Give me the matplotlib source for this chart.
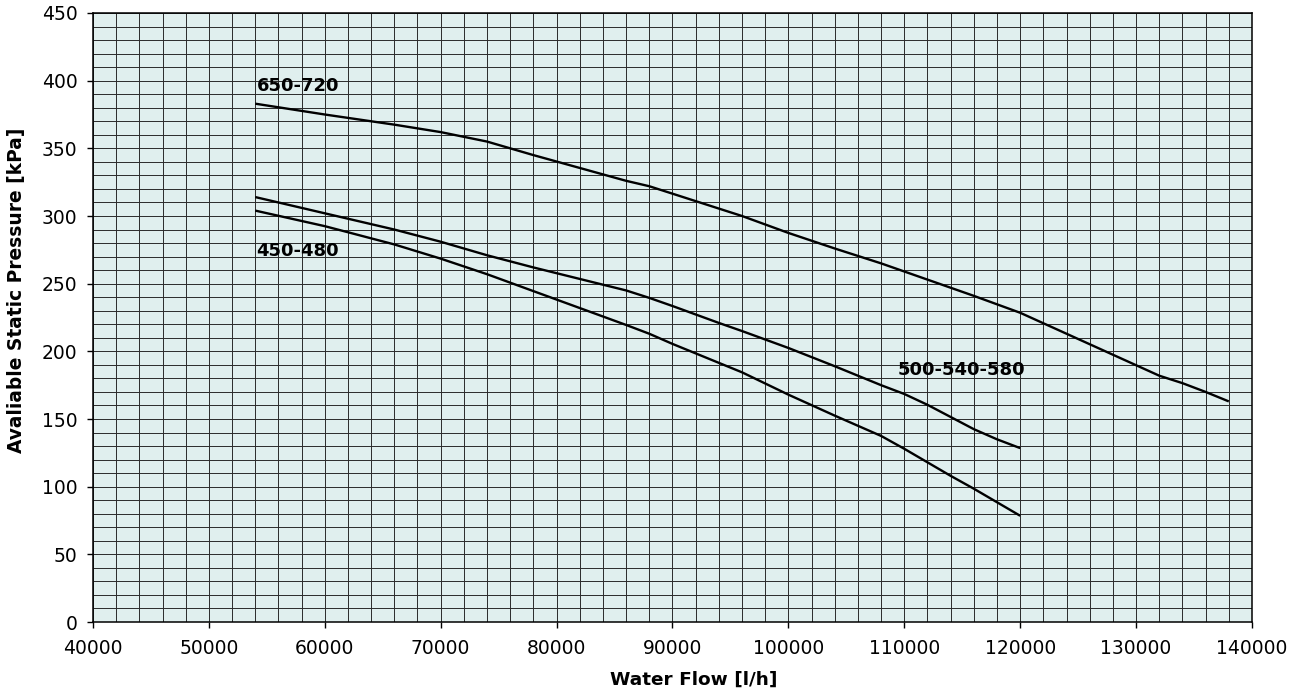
import numpy as np
import matplotlib
matplotlib.use('Agg')
import matplotlib.pyplot as plt
from matplotlib.ticker import MultipleLocator

flow_650 = [54000, 60000, 66000, 70000, 74000, 78000, 82000, 86000, 88000, 92000,
            96000, 100000, 104000, 108000, 112000, 116000, 120000, 124000, 128000,
            132000, 134000, 136000, 138000]
press_650 = [383, 375, 367.5, 362, 355, 345, 335.5, 326, 322, 311,
             300, 287.5, 276, 265, 253, 241, 228.5, 213, 197.5,
             182, 176.5, 170, 163]

flow_500 = [54000, 60000, 66000, 70000, 74000, 78000, 82000, 86000, 88000, 90000,
            94000, 96000, 100000, 104000, 108000, 110000, 112000, 114000, 116000,
            118000, 120000]
press_500 = [314, 302, 290, 281, 271, 262, 253.5, 245, 239.5, 233.5,
             221, 215, 202.5, 189, 175, 168.5, 160.5, 151.5, 142.5,
             135, 128.5]

flow_450 = [54000, 60000, 66000, 70000, 74000, 78000, 82000, 86000, 88000, 90000,
            94000, 96000, 100000, 104000, 108000, 110000, 112000, 114000, 116000,
            118000, 120000]
press_450 = [304, 292.5, 279, 268.5, 257, 244.5, 232, 219.5, 213, 205.5,
             191.5, 184.5, 168, 152.5, 137.5, 128, 118, 108, 98.5,
             88.5, 78.5]

labels = ['650-720', '500-540-580', '450-480']
label_pos = [(54100, 396), (109400, 186), (54100, 274)]

plt.rcParams['font.family'] = ['DejaVu Sans']

fig = plt.figure(figsize=(13.02, 6.95), dpi=100)
ax = fig.add_axes([0.0714, 0.105, 0.8902, 0.8763])
ax.set_facecolor('#e0efee')

ax.xaxis.set_major_locator(MultipleLocator(10000))
ax.xaxis.set_minor_locator(MultipleLocator(2000))
ax.yaxis.set_major_locator(MultipleLocator(50))
ax.yaxis.set_minor_locator(MultipleLocator(10))
ax.grid(which='both', color='#2a2a2a', lw=0.7)
ax.set_axisbelow(True)

for fl, pr in [(flow_650, press_650), (flow_500, press_500), (flow_450, press_450)]:
    ax.plot(fl, pr, color='black', lw=1.7, solid_capstyle='butt')

for txt, (lx, ly) in zip(labels, label_pos):
    ax.text(lx, ly, txt, fontsize=13, fontweight='bold', ha='left', va='center')

ax.set_xlim(40000, 140000)
ax.set_ylim(0, 450)
ax.tick_params(which='major', direction='out', length=4, width=1, labelsize=13.5)
ax.tick_params(axis='x', pad=8)
ax.tick_params(axis='y', pad=7)
ax.tick_params(which='minor', length=0)
for s in ax.spines.values():
    s.set_color('black')
    s.set_linewidth(1.1)

ax.set_xlabel('Water Flow [l/h]', fontsize=13.3, fontweight='bold', va='center')
ax.set_ylabel('Avaliable Static Pressure [kPa]', fontsize=13.4, fontweight='bold', va='center')
ax.xaxis.set_label_coords(0.518, -0.0952)
ax.yaxis.set_label_coords(-0.0664, 0.545)

fig.savefig('out.png', dpi=100)
